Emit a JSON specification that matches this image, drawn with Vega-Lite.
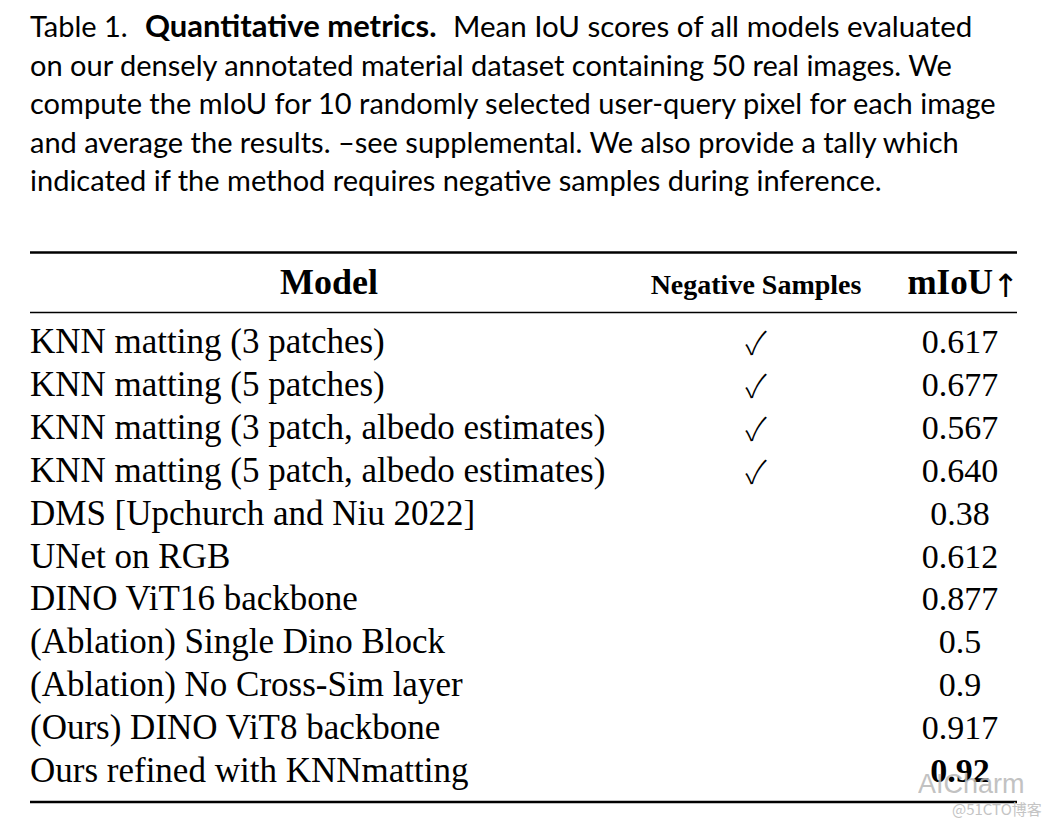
{
  "$schema": "https://vega.github.io/schema/vega-lite/v6.json",
  "width": 1060,
  "height": 828,
  "autosize": {"type": "fit", "contains": "padding"},
  "padding": 0,
  "background": "white",
  "config": {"view": {"stroke": null}},
  "datasets": {
    "caption": [
      {"line": 1, "part": "plain", "text": "Table 1."},
      {"line": 1, "part": "bold", "text": "Quantitative metrics."},
      {"line": 1, "part": "tail", "text": "Mean IoU scores of all models evaluated"},
      {"line": 2, "part": "plain", "text": "on our densely annotated material dataset containing 50 real images. We"},
      {"line": 3, "part": "plain", "text": "compute the mIoU for 10 randomly selected user-query pixel for each image"},
      {"line": 4, "part": "plain", "text": "and average the results. –see supplemental. We also provide a tally which"},
      {"line": 5, "part": "plain", "text": "indicated if the method requires negative samples during inference."}
    ],
    "results": [
      {"row": 1, "model": "KNN matting (3 patches)", "negative": true, "miou": "0.617"},
      {"row": 2, "model": "KNN matting (5 patches)", "negative": true, "miou": "0.677"},
      {"row": 3, "model": "KNN matting (3 patch, albedo estimates)", "negative": true, "miou": "0.567"},
      {"row": 4, "model": "KNN matting (5 patch, albedo estimates)", "negative": true, "miou": "0.640"},
      {"row": 5, "model": "DMS [Upchurch and Niu 2022]", "negative": false, "miou": "0.38"},
      {"row": 6, "model": "UNet on RGB", "negative": false, "miou": "0.612"},
      {"row": 7, "model": "DINO ViT16 backbone", "negative": false, "miou": "0.877"},
      {"row": 8, "model": "(Ablation) Single Dino Block", "negative": false, "miou": "0.5"},
      {"row": 9, "model": "(Ablation) No Cross-Sim layer", "negative": false, "miou": "0.9"},
      {"row": 10, "model": "(Ours) DINO ViT8 backbone", "negative": false, "miou": "0.917"},
      {"row": 11, "model": "Ours refined with KNNmatting", "negative": false, "miou": "0.92"}
    ]
  },
  "layer": [
    {
      "data": {"name": "caption"},
      "transform": [{"filter": "datum.part == 'plain'"}],
      "mark": {"type": "text", "align": "left", "baseline": "alphabetic", "font": "Lato", "fontSize": 29, "color": "black"},
      "encoding": {
        "x": {"value": 30},
        "y": {"field": "line", "type": "quantitative", "scale": {"domain": [1, 5], "range": [37, 191], "nice": false, "zero": false}, "axis": null},
        "text": {"field": "text"}
      }
    },
    {
      "data": {"name": "caption"},
      "transform": [{"filter": "datum.part == 'bold'"}],
      "mark": {"type": "text", "align": "left", "baseline": "alphabetic", "font": "Lato", "fontSize": 31, "fontWeight": "bold", "color": "black"},
      "encoding": {
        "x": {"value": 145},
        "y": {"field": "line", "type": "quantitative", "scale": {"domain": [1, 5], "range": [37, 191], "nice": false, "zero": false}, "axis": null},
        "text": {"field": "text"}
      }
    },
    {
      "data": {"name": "caption"},
      "transform": [{"filter": "datum.part == 'tail'"}],
      "mark": {"type": "text", "align": "left", "baseline": "alphabetic", "font": "Lato", "fontSize": 29.5, "color": "black"},
      "encoding": {
        "x": {"value": 453},
        "y": {"field": "line", "type": "quantitative", "scale": {"domain": [1, 5], "range": [37, 191], "nice": false, "zero": false}, "axis": null},
        "text": {"field": "text"}
      }
    },
    {
      "data": {"values": [{"rule": "top"}]},
      "mark": {"type": "rule", "color": "black", "strokeWidth": 2.7},
      "encoding": {"x": {"value": 30}, "x2": {"value": 1017}, "y": {"value": 252.5}}
    },
    {
      "data": {"values": [{"rule": "mid"}]},
      "mark": {"type": "rule", "color": "black", "strokeWidth": 1.6},
      "encoding": {"x": {"value": 30}, "x2": {"value": 1017}, "y": {"value": 312.5}}
    },
    {
      "data": {"values": [{"rule": "bottom"}]},
      "mark": {"type": "rule", "color": "black", "strokeWidth": 2.7},
      "encoding": {"x": {"value": 30}, "x2": {"value": 1017}, "y": {"value": 802}}
    },
    {
      "data": {"values": [{"header": "Model"}]},
      "mark": {"type": "text", "align": "center", "baseline": "alphabetic", "font": "Liberation Serif", "fontSize": 36, "fontWeight": "bold", "color": "black"},
      "encoding": {"x": {"value": 329}, "y": {"value": 294}, "text": {"field": "header"}}
    },
    {
      "data": {"values": [{"header": "Negative Samples"}]},
      "mark": {"type": "text", "align": "center", "baseline": "alphabetic", "font": "Liberation Serif", "fontSize": 28, "fontWeight": "bold", "color": "black"},
      "encoding": {"x": {"value": 756}, "y": {"value": 294}, "text": {"field": "header"}}
    },
    {
      "data": {"values": [{"header": "mIoU"}]},
      "mark": {"type": "text", "align": "right", "baseline": "alphabetic", "font": "Liberation Serif", "fontSize": 35, "fontWeight": "bold", "color": "black"},
      "encoding": {"x": {"value": 993}, "y": {"value": 294}, "text": {"field": "header"}}
    },
    {
      "data": {"values": [{"header": "↑"}]},
      "mark": {"type": "text", "align": "right", "baseline": "alphabetic", "font": "DejaVu Sans", "fontSize": 32, "fontWeight": "normal", "color": "black"},
      "encoding": {"x": {"value": 1019}, "y": {"value": 297}, "text": {"field": "header"}}
    },
    {
      "data": {"name": "results"},
      "mark": {"type": "text", "align": "left", "baseline": "alphabetic", "font": "Liberation Serif", "fontSize": 35, "color": "black"},
      "encoding": {
        "x": {"value": 30},
        "y": {"field": "row", "type": "quantitative", "scale": {"domain": [1, 11], "range": [353, 782], "nice": false, "zero": false}, "axis": null},
        "text": {"field": "model"}
      }
    },
    {
      "data": {"name": "results"},
      "transform": [{"filter": "datum.negative"}],
      "mark": {"type": "text", "align": "center", "baseline": "alphabetic", "font": "Noto Sans CJK JP", "fontSize": 32, "fontWeight": 300, "color": "black"},
      "encoding": {
        "x": {"value": 756},
        "y": {"field": "row", "type": "quantitative", "scale": {"domain": [1, 11], "range": [355, 784], "nice": false, "zero": false}, "axis": null},
        "text": {"value": "✓"}
      }
    },
    {
      "data": {"name": "results"},
      "transform": [{"filter": "datum.miou != '0.92'"}],
      "mark": {"type": "text", "align": "center", "baseline": "alphabetic", "font": "Liberation Serif", "fontSize": 34, "color": "black"},
      "encoding": {
        "x": {"value": 960},
        "y": {"field": "row", "type": "quantitative", "scale": {"domain": [1, 11], "range": [353, 782], "nice": false, "zero": false}, "axis": null},
        "text": {"field": "miou"}
      }
    },
    {
      "data": {"name": "results"},
      "transform": [{"filter": "datum.miou == '0.92'"}],
      "mark": {"type": "text", "align": "center", "baseline": "alphabetic", "font": "Liberation Serif", "fontSize": 34, "fontWeight": "bold", "color": "black"},
      "encoding": {
        "x": {"value": 960},
        "y": {"field": "row", "type": "quantitative", "scale": {"domain": [1, 11], "range": [353, 782], "nice": false, "zero": false}, "axis": null},
        "text": {"field": "miou"}
      }
    },
    {
      "data": {"values": [{"mark": "AICharm", "size": "big"}, {"mark": "@51CTO博客", "size": "small"}]},
      "transform": [{"filter": "datum.size == 'big'"}],
      "mark": {"type": "text", "align": "left", "baseline": "alphabetic", "font": "Liberation Sans", "fontSize": 27, "color": "#b8b8b8", "opacity": 0.85},
      "encoding": {"x": {"value": 918}, "y": {"value": 793}, "text": {"field": "mark"}}
    },
    {
      "data": {"values": [{"mark": "AICharm", "size": "big"}, {"mark": "@51CTO博客", "size": "small"}]},
      "transform": [{"filter": "datum.size == 'small'"}],
      "mark": {"type": "text", "align": "left", "baseline": "alphabetic", "font": "Noto Sans CJK SC", "fontSize": 15, "color": "#c4c4c4"},
      "encoding": {"x": {"value": 952}, "y": {"value": 815}, "text": {"field": "mark"}}
    }
  ],
  "resolve": {"scale": {"y": "independent"}}
}
